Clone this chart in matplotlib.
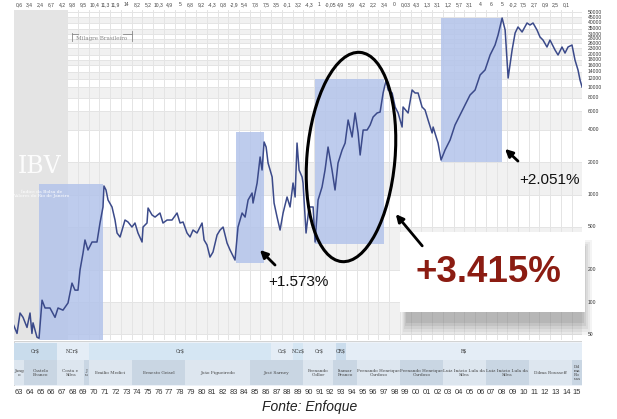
import matplotlib
matplotlib.use("Agg")
import matplotlib.pyplot as plt
from matplotlib.patches import Rectangle, Ellipse
from matplotlib.transforms import offset_copy

plt.rcParams['font.family'] = ['Liberation Sans', 'DejaVu Sans']

# IBV em termos reais (escala log), leitura aproximada do gráfico
years = [1963.0, 1963.32, 1963.6, 1963.88, 1964.25, 1964.53, 1964.71, 1964.81, 1965.18, 1965.37,
         1965.65, 1965.93, 1966.39, 1966.86, 1967.14, 1967.6, 1968.07, 1968.44, 1968.72, 1969.0,
         1969.19, 1969.47, 1969.65, 1969.93, 1970.31, 1970.77, 1971.05, 1971.33, 1971.42, 1971.61,
         1971.8, 1972.17, 1972.45, 1972.64, 1972.92, 1973.38, 1973.66, 1974.03, 1974.31, 1974.59,
         1974.97, 1975.06, 1975.43, 1975.53, 1975.9, 1976.18, 1976.64, 1976.92, 1977.3, 1977.76,
         1978.23, 1978.51, 1978.79, 1979.16, 1979.44, 1979.72, 1980.09, 1980.56, 1980.75, 1981.02,
         1981.3, 1981.58, 1981.96, 1982.24, 1982.52, 1982.89, 1983.17, 1983.63, 1983.91, 1984.29,
         1984.57, 1984.85, 1985.22, 1985.31, 1985.69, 1985.97, 1986.15, 1986.34, 1986.53, 1986.71,
         1987.09, 1987.27, 1987.55, 1987.83, 1988.11, 1988.48, 1988.76, 1989.04, 1989.23, 1989.41,
         1989.6, 1989.88, 1989.97, 1990.25, 1990.53, 1990.91, 1991.09, 1991.37, 1991.74, 1992.02,
         1992.3, 1992.67, 1992.95, 1993.23, 1993.61, 1993.89, 1994.17, 1994.54, 1994.82, 1995.1,
         1995.29, 1995.57, 1995.94, 1996.22, 1996.5, 1996.87, 1997.15, 1997.43, 1997.71, 1997.9,
         1998.27, 1998.55, 1998.83, 1999.2, 1999.29, 1999.76, 2000.13, 2000.41, 2000.69, 2001.06,
         2001.34, 2001.62, 2002.0, 2002.09, 2002.55, 2002.83, 2003.2, 2003.67, 2004.13, 2004.6,
         2005.07, 2005.53, 2006.0, 2006.47, 2006.93, 2007.4, 2007.86, 2008.14, 2008.52, 2008.8,
         2009.08, 2009.45, 2009.73, 2010.0, 2010.38, 2010.84, 2011.12, 2011.4, 2011.77, 2012.05,
         2012.33, 2012.7, 2012.98, 2013.45, 2013.73, 2014.1, 2014.38, 2014.66, 2015.03, 2015.31,
         2015.59, 2015.78, 2015.97]
ibv = [61, 51, 79, 72, 58, 79, 51, 64, 47, 46,
       104, 88, 88, 72, 88, 84, 98, 150, 129, 129,
       199, 286, 378, 305, 362, 362, 544, 767, 1203, 1104,
       891, 767, 580, 439, 403, 580, 556, 499, 544, 439,
       362, 499, 544, 750, 646, 618, 674, 544, 580, 580,
       674, 544, 556, 439, 403, 468, 439, 544, 378, 340,
       262, 292, 421, 468, 499, 354, 305, 246, 499, 674,
       618, 891, 1035, 835, 1282, 2239, 1694, 3090, 2773, 1968,
       1459, 835, 618, 468, 674, 950, 767, 1282, 950, 3020,
       1694, 1459, 1282, 439, 767, 767, 362, 891, 1177, 1694,
       2773, 1694, 1104, 1968, 2600, 3020, 4950, 3437, 5754, 3750,
       2338, 3993, 3993, 4446, 5281, 5754, 5875, 8832, 11670, 9419,
       8832, 6541, 5754, 4259, 6541, 5754, 9419, 8832, 8832, 6541,
       6134, 4950, 3750, 4259, 3020, 2100, 2600, 3223, 4446, 5510,
       6823, 8460, 9419, 13000, 14470, 19950, 24700, 30600, 44070, 34100,
       12180, 22190, 31970, 36380, 32660, 39600, 37940, 39600, 34100, 29330,
       27480, 23670, 27480, 22190, 19950, 23670, 20800, 23670, 24700, 17910,
       14470, 11670, 10040]

# crescimento do PIB (%) exibido no topo, 1963-2014
gdp_growth = ["0,6", "3,4", "2,4", "6,7", "4,2", "9,8", "9,5", "10,4", "11,3", "11,9",
              "14", "8,2", "5,2", "10,3", "4,9", "5", "6,8", "9,2", "-4,3", "0,8",
              "-2,9", "5,4", "7,8", "7,5", "3,5", "-0,1", "3,2", "-4,3", "1", "-0,05",
              "4,9", "5,9", "4,2", "2,2", "3,4", "0", "0,03", "4,3", "1,3", "3,1",
              "1,2", "5,7", "3,1", "4", "6", "5", "-0,2", "7,5", "2,7", "0,9",
              "2,5", "0,1"]

value_ticks = [50, 100, 200, 500, 1000, 2000, 4000, 6000, 8000, 10000, 12000, 14000, 16000,
               18000, 20000, 23000, 26000, 28000, 31000, 35000, 40000, 45000, 50000]

# períodos de alta destacados
rally_start = [1965.4, 1983.73, 1991.09, 2002.83]
rally_end = [1971.3, 1986.34, 1997.52, 2008.52]
rally_low = [44, 231, 347, 2012]
rally_high = [1250, 3830, 11900, 44000]

currency_names = ["Cr$", "NCr$", "Cr$", "Cz$", "NCz$", "Cr$", "CR$", "R$"]
currency_from = [1963, 1967, 1970, 1987, 1989, 1990, 1993, 1994]
currency_to = [1967, 1970, 1987, 1989, 1990, 1993, 1994, 2016]

president_names = ["Jang\no", "Castelo\nBranco", "Costa e\nSilva", "J\nu", "Emilio Medici",
                   "Ernesto Geisel", "João Figueiredo", "José Sarney", "Fernando\nCollor",
                   "Itamar\nFranco", "Fernando Henrique\nCardoso", "Fernando Henrique\nCardoso",
                   "Luiz Inácio Lula da\nSilva", "Luiz Inácio Lula da\nSilva", "Dilma Rousseff",
                   "Dil\nma\nRo\nuss"]
president_from = [1963, 1964, 1967, 1969.6, 1970, 1974, 1979, 1985, 1990, 1992.8, 1995, 1999,
                  2003, 2007, 2011, 2015]
president_to = [1964, 1967, 1969.6, 1970, 1974, 1979, 1985, 1990, 1992.8, 1995, 1999, 2003,
                2007, 2011, 2015, 2016]

W, H = 617, 419
fig = plt.figure(figsize=(W / 100, H / 100), dpi=100)

ax = fig.add_axes([13.6 / W, 79 / H, 568.8 / W, 330 / H])
ax.set_yscale('log')
ax.set_xlim(1963, 2016)
ax.set_ylim(44.3, 52340)

# faixas alternadas e grade
for i in range(len(value_ticks) - 1):
    if i % 2 == 0:
        ax.axhspan(value_ticks[i], value_ticks[i + 1], color='#f1f1f1', lw=0, zorder=0)
ax.axvspan(1963, 1968, color='#e4e4e4', lw=0, zorder=0.5)
for yr in range(1964, 2016):
    ax.axvline(yr, color='#e4e4e4', lw=0.7, zorder=0.6)
for v in value_ticks:
    ax.axhline(v, color='#e4e4e4', lw=0.7, zorder=0.6)

for s, e, lo, hi in zip(rally_start, rally_end, rally_low, rally_high):
    ax.add_patch(Rectangle((s, lo), e - s, hi - lo, facecolor='#b3c4ea', alpha=0.85,
                           lw=0, zorder=1))

ax.plot(years, ibv, color='#3b4a8a', lw=1.1, zorder=3)

# rótulos do eixo à direita (26000/28000 quase coincidem: afasta um pouco)
ax.set_yticks([])
ax.minorticks_off()
ax.set_xticks([])
nudge = {28000: 0.55, 26000: -0.55}
for v in value_ticks:
    t = offset_copy(ax.get_yaxis_transform(), fig=fig, x=4, y=nudge.get(v, 0), units='points')
    ax.text(1.0, v, str(v), transform=t, ha='left', va='center', fontsize=3.6,
            color='#333333')
for sp in ax.spines.values():
    sp.set_visible(False)

trans = ax.get_xaxis_transform()
for i, g in enumerate(gdp_growth):
    ax.text(1963 + i + 0.5, 1.016, g, transform=trans, ha='center', va='center',
            fontsize=3.6, color='#444444')

# "IBV"
ax.text(0.046, 0.527, "IBV", transform=ax.transAxes, ha='center', va='center',
        family='DejaVu Serif', fontsize=17, color='white', alpha=0.9, zorder=4)
ax.text(0.049, 0.442, "Índice da Bolsa de\nValores do Rio de Janeiro", transform=ax.transAxes,
        ha='center', va='center', family='DejaVu Serif', fontsize=3.2, color='white',
        linespacing=1.1, zorder=4)

# Milagre Brasileiro
ax.plot([1968.4, 1968.4], [0.905, 0.93], transform=trans, color='#888888', lw=0.6)
ax.plot([1974.0, 1974.0], [0.905, 0.935], transform=trans, color='#888888', lw=0.6)
ax.plot([1968.4, 1969.0], [0.928, 0.928], transform=trans, color='#888888', lw=0.6)
ax.plot([1973.2, 1974.0], [0.928, 0.928], transform=trans, color='#888888', lw=0.6)
ax.text(1971.2, 0.915, "Milagre Brasileiro", transform=trans, ha='center', va='center',
        family='DejaVu Serif', fontsize=4, color='#888888')

# faixa inferior: moedas e presidentes
sx = fig.add_axes([13.6 / W, 33 / H, 568.8 / W, 45 / H])
sx.set_xlim(1963, 2016)
sx.set_ylim(0, 45)
sx.add_patch(Rectangle((1963, 0), 53, 45, facecolor='#edf2f8', edgecolor='#cccccc', lw=0.6))
row1_colors = ['#c9dcec', '#e4edf6', '#d5e6f3', '#e4edf6', '#d5e6f3', '#e4edf6', '#cadcec',
               '#e4edf6']
for name, a, b, c in zip(currency_names, currency_from, currency_to, row1_colors):
    sx.add_patch(Rectangle((a, 26), b - a, 17, facecolor=c, lw=0))
    sx.text((a + b) / 2, 34.5, name, ha='center', va='center', fontsize=3.3,
            family='DejaVu Serif', color='#333333')
for i, (name, a, b) in enumerate(zip(president_names, president_from, president_to)):
    c = '#dde6ef' if i % 2 == 0 else '#c9d6e3'
    sx.add_patch(Rectangle((a, 1), b - a, 25, facecolor=c, lw=0))
    sx.text((a + b) / 2, 13.5, name, ha='center', va='center', fontsize=3.1,
            family='DejaVu Serif', color='#444444', linespacing=1.0)
sx.set_yticks([])
sx.set_xticks([1963 + i + 0.5 for i in range(53)])
sx.set_xticklabels(["%02d" % ((1963 + i) % 100) for i in range(53)], fontsize=5.4,
                   color='#333333')
sx.tick_params(axis='x', length=0, pad=2.5)
for sp in sx.spines.values():
    sp.set_visible(False)

# anotações
ov = fig.add_axes([0, 0, 1, 1], zorder=10)
ov.set_xlim(0, W)
ov.set_ylim(H, 0)
ov.axis('off')

ov.add_patch(Ellipse((351, 157), 88, 210, angle=5, fill=False, edgecolor='black', lw=2.2))

arrow = dict(arrowstyle='-|>', color='black', lw=2.0, mutation_scale=11)
ov.annotate('', xy=(258, 248), xytext=(277, 267), arrowprops=arrow)
ov.annotate('', xy=(394, 212), xytext=(424, 248), arrowprops=arrow)
ov.annotate('', xy=(503, 147), xytext=(520, 163), arrowprops=arrow)

ov.text(298, 282, "+1.573%", ha='center', va='center', fontsize=11, color='#111111')
ov.text(549, 180, "+2.051%", ha='center', va='center', fontsize=11, color='#111111')

for k, al in enumerate([0.05, 0.06, 0.07, 0.08, 0.09]):
    ov.add_patch(Rectangle((402 + k, 240 + k * 2), 190 - 3 * k, 95 - 5 * k,
                           facecolor='#333333', alpha=al, lw=0))
ov.add_patch(Rectangle((400, 232), 185, 80, facecolor='white', lw=0))
ov.text(488, 272, "+3.415%", ha='center', va='center', fontsize=26.5, fontweight='bold',
        color='#8b1c12')

fig.text(310 / W, 1 - 407 / H, "Fonte: Enfoque", ha='center', va='center', fontsize=10,
         style='italic', color='#222222')

fig.savefig("out.png", dpi=100)
